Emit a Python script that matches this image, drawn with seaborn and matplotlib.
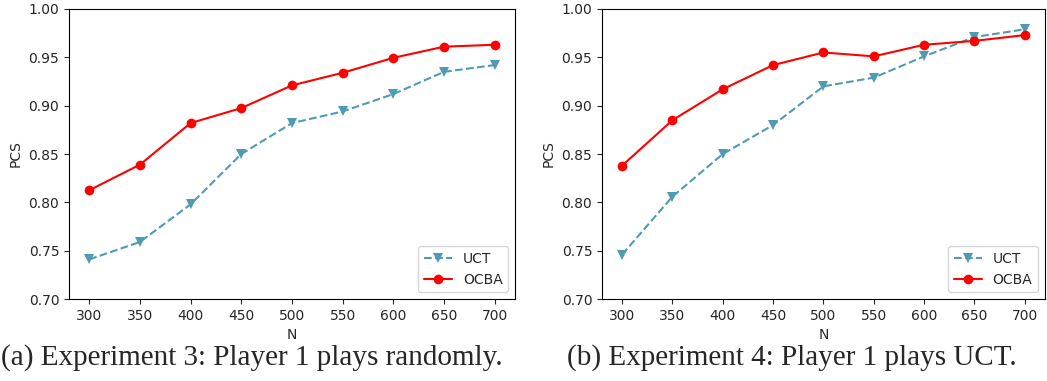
import pandas as pd
import matplotlib
matplotlib.use("Agg")
import matplotlib.pyplot as plt
import seaborn as sns

# values
n_values = [300, 350, 400, 450, 500, 550, 600, 650, 700]

uct_exp3 = [0.741, 0.759, 0.798, 0.850, 0.882, 0.894, 0.912, 0.935, 0.942]
ocba_exp3 = [0.8125, 0.839, 0.882, 0.8975, 0.921, 0.934, 0.9495, 0.961, 0.963]

uct_exp4 = [0.746, 0.806, 0.850, 0.880, 0.920, 0.929, 0.951, 0.971, 0.979]
ocba_exp4 = [0.838, 0.885, 0.917, 0.942, 0.955, 0.951, 0.963, 0.967, 0.973]

captions = ["(a) Experiment 3: Player 1 plays randomly.",
            "(b) Experiment 4: Player 1 plays UCT."]

uct_color = "#4f9bb3"
ocba_color = "red"

sns.set_style("ticks")
plt.rcParams["font.family"] = ["DejaVu Sans"]

fig = plt.figure(figsize=(10.47, 3.81), dpi=100)
ax1 = fig.add_axes([0.0659, 0.2152, 0.426, 0.7612])
ax2 = fig.add_axes([0.575, 0.2152, 0.423, 0.7612])

panels = [(ax1, uct_exp3, ocba_exp3), (ax2, uct_exp4, ocba_exp4)]

for ax, uct, ocba in panels:
    df = pd.DataFrame({"N": n_values, "UCT": uct, "OCBA": ocba})
    sns.lineplot(data=df, x="N", y="UCT", ax=ax, color=uct_color,
                 linestyle="--", marker="v", markersize=7, markeredgewidth=0,
                 label="UCT")
    sns.lineplot(data=df, x="N", y="OCBA", ax=ax, color=ocba_color,
                 linestyle="-", marker="o", markersize=7, markeredgewidth=0,
                 label="OCBA")
    ax.set_ylim(0.70, 1.00)
    ax.set_xticks(n_values)
    ax.set_yticks([0.70, 0.75, 0.80, 0.85, 0.90, 0.95, 1.00])
    ax.set_yticklabels(["0.70", "0.75", "0.80", "0.85", "0.90", "0.95", "1.00"])
    ax.set_xlabel("N", fontsize=10)
    ax.set_ylabel("PCS", fontsize=10)
    ax.tick_params(labelsize=10)
    for s in ax.spines.values():
        s.set_visible(True)
        s.set_color("black")
    ax.legend(loc="lower right", fontsize=10)

fig.text(0.2407, 0.044, captions[0], ha="center", fontsize=21,
         family=["Liberation Serif", "DejaVu Serif"])
fig.text(0.7565, 0.044, captions[1], ha="center", fontsize=21,
         family=["Liberation Serif", "DejaVu Serif"])

fig.savefig("out.png", dpi=100)
